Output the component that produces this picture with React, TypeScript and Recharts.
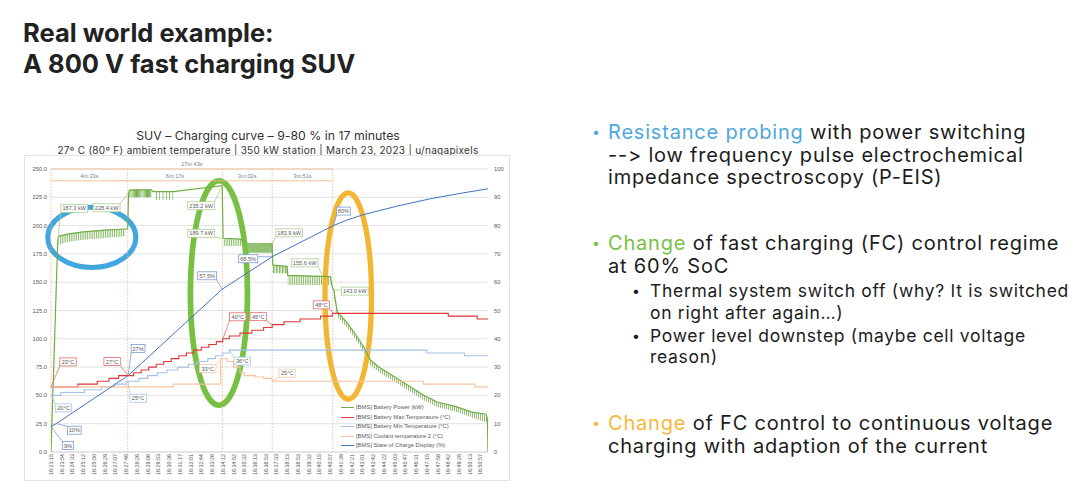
import {
  ComposedChart,
  Line,
  Area,
  XAxis,
  YAxis,
  CartesianGrid,
  Legend,
  ReferenceLine,
  ReferenceDot,
  ReferenceArea,
} from "recharts";

const SLIDE_FONT = "Inter, 'Noto Sans', sans-serif";
const CHART_FONT = "'Liberation Sans', Arial, sans-serif";

// x values are "label slots" of the category axis: 0 = 16:23:15 ... 40 = 16:50:57
const TIME_LABELS = [
  "16:23:15", "16:23:54", "16:24:33", "16:25:12", "16:25:50", "16:26:29", "16:27:07",
  "16:27:46", "16:28:26", "16:29:06", "16:29:53", "16:30:36", "16:31:17", "16:32:01",
  "16:32:44", "16:33:26", "16:34:12", "16:34:52", "16:35:32", "16:36:13", "16:36:53",
  "16:37:33", "16:38:13", "16:38:53", "16:39:32", "16:40:15", "16:40:57", "16:41:39",
  "16:42:21", "16:43:01", "16:43:42", "16:44:22", "16:45:03", "16:45:47", "16:46:31",
  "16:47:15", "16:47:58", "16:48:42", "16:49:28", "16:50:13", "16:50:57",
];
const TIME_TICKS = TIME_LABELS.map((_, i) => i);
const KW_TICKS = [0, 25, 50, 75, 100, 125, 150, 175, 200, 225, 250];
const PCT_TICKS = [0, 10, 20, 30, 40, 50, 60, 70, 80, 90, 100];

// [slot, kW] upper edge of the battery power trace
const POWER: [number, number][] = [
  [0, 0], [0.63, 187], [0.71, 190.5], [1.5, 192.5], [3, 194.5], [5, 196], [6.92, 197],
  [7.14, 197], [7.23, 229], [7.4, 231.6], [9.35, 231.6], [9.5, 230], [11.4, 230],
  [15.94, 235.2], [16.03, 188.8], [17.71, 188], [18.27, 184], [20.6, 183.9], [20.65, 165],
  [21.99, 164], [22.05, 156], [26.03, 155], [26.19, 146], [26.34, 143], [26.65, 124],
  [27.59, 114], [28.2, 106], [29.13, 93], [29.75, 81], [30.7, 74], [32.25, 65],
  [33.5, 57.5], [34.7, 50.2], [35.97, 44.2], [37.8, 39.8], [39.1, 35.4], [40.5, 33.4],
  [40.64, 30], [40.7, 0],
];

// power ripple from the resistance probing: [slot, low kW, high kW]
const RIPPLE_A: [number, number, number][] = [
  [0.71, 183, 190.5], [1.5, 185.5, 192.5], [3, 187.5, 194.5], [5, 189, 196], [6.92, 190.3, 197],
];
const RIPPLE_B: [number, number, number][] = [[7.23, 225, 231.6], [9.35, 225, 231.6]];
const RIPPLE_C: [number, number, number][] = [[9.72, 222.7, 230], [11.4, 222.7, 230]];
const RIPPLE_D: [number, number, number][] = [[16.03, 182, 188.8], [17.71, 182, 188]];
const RIPPLE_E: [number, number, number][] = [[18.27, 176, 183.5], [20.6, 176, 183.9]];
const RIPPLE_F: [number, number, number][] = [[20.65, 158, 165], [21.99, 158, 164]];
const RIPPLE_G: [number, number, number][] = [[22.05, 147.5, 156], [26.03, 147.5, 155]];
const RIPPLE_H: [number, number, number][] = [
  [26.34, 139, 143], [26.65, 119.5, 124], [27.59, 109.5, 114], [28.2, 101.5, 106],
  [29.13, 88.5, 93], [29.75, 76.5, 81], [30.7, 69.5, 74], [32.25, 60.5, 65], [33.5, 53, 57.5],
  [34.7, 45.7, 50.2], [35.97, 39.7, 44.2], [37.8, 35.3, 39.8], [39.1, 31, 35.4],
  [40.3, 27, 33.5], [40.64, 26, 30],
];
const RIPPLES = [RIPPLE_A, RIPPLE_B, RIPPLE_C, RIPPLE_D, RIPPLE_E, RIPPLE_F, RIPPLE_G, RIPPLE_H];
// tooth spacing (px) of the hatch used for each ripple band
const RIPPLE_GAP = [1.8, 1.1, 3.3, 1.8, 1.0, 1.5, 1.8, 2.0];

// [slot, °C] step series on the right axis
const MAX_TEMP: [number, number][] = [
  [0, 23], [2.5, 24], [4.3, 25], [5.4, 26], [6.3, 27], [7.7, 28], [8.4, 29], [9.1, 30],
  [9.8, 31], [10.5, 32], [11.2, 33], [11.9, 34], [12.6, 35], [13.3, 36], [14.0, 37],
  [14.7, 38], [15.4, 39], [16.0, 40], [16.6, 41], [17.6, 42], [18.7, 43], [19.8, 44],
  [20.6, 45], [21.7, 46], [23.2, 47], [25.1, 48], [26.2, 49], [37.0, 48], [39.7, 47],
  [40.7, 47],
];
const MIN_TEMP: [number, number][] = [
  [0, 20], [0.9, 21], [3.1, 22], [4.7, 23], [5.9, 24], [7.0, 25], [8.2, 26], [9.0, 27],
  [9.9, 28], [10.8, 29], [11.8, 30], [12.8, 31], [13.6, 32], [14.6, 33], [15.3, 34],
  [16.0, 35], [16.6, 36], [35.0, 35], [38.5, 34], [40.7, 34],
];
const COOLANT: [number, number][] = [
  [0, 23], [11.4, 24], [15.8, 33], [16.4, 32], [17.0, 30], [17.6, 28], [18.0, 27],
  [19.0, 26.5], [19.8, 26], [20.6, 25], [34.7, 24], [39.5, 23], [40.7, 23],
];
// [slot, %]
const SOC: [number, number][] = [
  [0, 9], [0.49, 10], [7.18, 27], [15.94, 57.5], [20.6, 69], [26.3, 80], [27.59, 82],
  [29.13, 83.9], [32.25, 86.9], [35.35, 89.5], [38.45, 91.6], [40.7, 93],
];

const SERIES_NAMES = [
  "[BMS] Battery Power (kW)",
  "[BMS] Battery Max Temperature (°C)",
  "[BMS] Battery Min Temperature (°C)",
  "[BMS] Coolant temperature 2 (°C)",
  "[BMS] State of Charge Display (%)",
];

// charging phases (slot boundaries) and their durations
const PHASE_EDGES = [0, 7.14, 15.96, 20.6, 26.24];
const PHASE_TEXT = ["4m:33s", "6m:17s", "3m:02s", "3m:51s"];
const TOTAL_TEXT = "17m:43s";

// data callouts: [slot, value, text]
const POWER_NOTES: [number, number, string][] = [
  [0.63, 187, "187.3 kW"], [7.23, 229, "228.4 kW"], [15.94, 235.2, "235.2 kW"],
  [16.03, 188.8, "189.7 kW"], [20.6, 183.9, "183.9 kW"], [25.3, 155.6, "155.6 kW"],
  [26.34, 143, "143.0 kW"],
];
const SOC_NOTES: [number, number, string][] = [
  [0, 9, "9%"], [0.49, 10, "10%"], [7.18, 27, "27%"], [15.94, 57.5, "57.5%"],
  [20.6, 69, "68.5%"], [26.3, 80, "80%"],
];
const MAX_NOTES: [number, number, string][] = [
  [0, 23, "23°C"], [7.18, 27, "27°C"], [16.0, 40, "40°C"], [20.6, 45, "45°C"], [26.3, 49, "48°C"],
];
const MIN_NOTES: [number, number, string][] = [
  [0, 20, "20°C"], [7.18, 25, "25°C"], [16.6, 36, "36°C"],
];
const COOL_NOTES: [number, number, string][] = [[15.9, 33, "33°C"], [20.6, 25, "25°C"]];

// callout box offsets from their point, px
const POWER_NOTE_OFFSET = [[16.5, -32], [-22, 15], [-21, 20], [-22, -5], [17, -11], [-18, -13], [21, 1]];
const SOC_NOTE_OFFSET = [[17, 19], [18, 6.5], [10, -27], [-15, -13.5], [-24, 2], [10, -14.5]];
const MAX_NOTE_OFFSET = [[17, -25], [-16, -14], [15, -22], [-14, -8], [-12, -8.5]];
const MIN_NOTE_OFFSET = [[12.5, 12.5], [10, 17], [13, 11]];
const COOL_NOTE_OFFSET = [[-14, 10], [15, -8]];

// hand-drawn highlight rings: [slot from, slot to, kW low, kW high]
const RINGS: [number, number, number, number][] = [
  [-0.3, 7.9, 163, 216.1],
  [12.98, 18.3, 41.3, 239.6],
  [25.52, 29.85, 46.6, 228.9],
];
const RING_COLOR = ["#41a7de", "#77c043", "#f2b632"];
const RING_WIDTH = [5, 5.7, 5.3];

const C = {
  power: "#70ad47",
  max: "#e0363a",
  min: "#a3c1e8",
  cool: "#f7c3a0",
  soc: "#4472c4",
  phase: "#f4b183",
  grid: "#e2e2e2",
  tick: "#595959",
};
const SERIES_COLORS = [C.power, C.max, C.min, C.cool, C.soc];

const rows = (pts: [number, number][]) => pts.map(([u, v]) => ({ u, v }));
const bandRows = (pts: [number, number, number][]) =>
  pts.map(([u, lo, hi]) => ({ u, r: [lo, hi] }));

function TimeTick({ x, y, payload }: any) {
  return (
    <text
      x={x}
      y={y - 6}
      transform={`rotate(-90 ${x} ${y - 6})`}
      textAnchor="end"
      dominantBaseline="central"
      fontSize={5.4}
      fontFamily={CHART_FONT}
      fill={C.tick}
    >
      {TIME_LABELS[payload.value]}
    </text>
  );
}

function Callout({ cx, cy, text, color, dx, dy }: any) {
  const w = text.length * 2.6 + 6;
  const h = 8;
  const bx = cx + dx;
  const by = cy + dy;
  const ex = Math.max(bx - w / 2, Math.min(cx, bx + w / 2));
  const ey = Math.max(by - h / 2, Math.min(cy, by + h / 2));
  return (
    <g>
      <line x1={cx} y1={cy} x2={ex} y2={ey} stroke={color} strokeWidth={0.8} />
      <rect x={bx - w / 2} y={by - h / 2} width={w} height={h} fill="#fff" stroke={color} strokeWidth={0.8} />
      <text x={bx} y={by + 2} textAnchor="middle" fontSize={5.6} fontFamily={CHART_FONT} fill={C.tick}>
        {text}
      </text>
    </g>
  );
}

// legend kept in the same order as the Excel original
function LegendBox() {
  return (
    <div style={{ fontFamily: CHART_FONT, fontSize: 5.8, color: C.tick, lineHeight: "9.5px" }}>
      {SERIES_NAMES.map((name, i) => (
        <div key={name} style={{ display: "flex", alignItems: "center", whiteSpace: "nowrap" }}>
          <span
            style={{ display: "inline-block", width: 13, height: 0, borderTop: `1.4px solid ${SERIES_COLORS[i]}`, marginRight: 2 }}
          />
          {name}
        </div>
      ))}
    </div>
  );
}

function notes(list: [number, number, string][], offs: number[][], axis: string, color: string) {
  return list.map(([u, v, text], i) => (
    <ReferenceDot
      key={axis + color + i}
      x={u}
      y={v}
      yAxisId={axis}
      r={0}
      ifOverflow="visible"
      shape={(p: any) => (
        <Callout cx={p.cx} cy={p.cy} text={text} color={color} dx={offs[i][0]} dy={offs[i][1]} />
      )}
    />
  ));
}

function Chart() {
  return (
    <ComposedChart width={486} height={326} margin={{ top: 14, right: 0, bottom: 0, left: 0 }}>
      <defs>
        {RIPPLE_GAP.map((g, i) => (
          <pattern key={i} id={`ripple${i}`} patternUnits="userSpaceOnUse" width={g} height={4}>
            <rect x={0} y={0} width={0.75} height={4} fill={C.power} />
          </pattern>
        ))}
      </defs>
      <CartesianGrid vertical={false} stroke={C.grid} yAxisId="kw" />
      <XAxis
        type="number"
        dataKey="u"
        domain={[0, 40.7]}
        ticks={TIME_TICKS}
        interval={0}
        height={29}
        tickLine={false}
        axisLine={{ stroke: "#d9d9d9" }}
        tick={(p: any) => <TimeTick {...p} />}
        allowDataOverflow
      />
      <YAxis
        yAxisId="kw"
        domain={[0, 250]}
        ticks={KW_TICKS}
        width={27}
        axisLine={false}
        tickLine={false}
        tickSize={3}
        tickMargin={1}
        tick={{ fontSize: 5.8, fill: C.tick, fontFamily: CHART_FONT }}
        tickFormatter={(v: number) => v.toFixed(1)}
      />
      <YAxis
        yAxisId="pct"
        orientation="right"
        domain={[0, 100]}
        ticks={PCT_TICKS}
        width={22}
        axisLine={false}
        tickLine={false}
        tickSize={4}
        tickMargin={2}
        tick={{ fontSize: 5.8, fill: C.tick, fontFamily: CHART_FONT, textAnchor: "start" }}
      />

      {PHASE_EDGES.map((x) => (
        <ReferenceLine key={"e" + x} x={x} yAxisId="kw" stroke={C.phase} strokeWidth={0.8} strokeDasharray="1.5 1.5" />
      ))}
      <ReferenceLine
        yAxisId="kw"
        segment={[{ x: PHASE_EDGES[0], y: 250 }, { x: PHASE_EDGES[4], y: 250 }]}
        stroke={C.phase}
        strokeWidth={0.8}
        ifOverflow="visible"
        label={{ value: TOTAL_TEXT, position: "top", offset: 3, fontSize: 5.6, fill: "#7f7f7f", fontFamily: CHART_FONT }}
      />
      {PHASE_TEXT.map((t, i) => (
        <ReferenceLine
          key={"p" + i}
          yAxisId="kw"
          segment={[{ x: PHASE_EDGES[i], y: 239.6 }, { x: PHASE_EDGES[i + 1], y: 239.6 }]}
          stroke={C.phase}
          strokeWidth={0.8}
          ifOverflow="visible"
          label={{ value: t, position: "top", offset: 3, fontSize: 5.6, fill: "#7f7f7f", fontFamily: CHART_FONT }}
        />
      ))}

      {RIPPLES.map((band, i) => (
        <Area
          key={"r" + i}
          data={bandRows(band)}
          dataKey="r"
          yAxisId="kw"
          type="linear"
          stroke="none"
          fill={`url(#ripple${i})`}
          fillOpacity={1}
          legendType="none"
          dot={false}
          activeDot={false}
          isAnimationActive={false}
        />
      ))}

      <Line name={SERIES_NAMES[0]} data={rows(POWER)} dataKey="v" yAxisId="kw" type="linear"
        stroke={C.power} strokeWidth={1.2} dot={false} activeDot={false} isAnimationActive={false} />
      <Line name={SERIES_NAMES[1]} data={rows(MAX_TEMP)} dataKey="v" yAxisId="pct" type="stepAfter"
        stroke={C.max} strokeWidth={1.1} dot={false} activeDot={false} isAnimationActive={false} />
      <Line name={SERIES_NAMES[2]} data={rows(MIN_TEMP)} dataKey="v" yAxisId="pct" type="stepAfter"
        stroke={C.min} strokeWidth={1.1} dot={false} activeDot={false} isAnimationActive={false} />
      <Line name={SERIES_NAMES[3]} data={rows(COOLANT)} dataKey="v" yAxisId="pct" type="stepAfter"
        stroke={C.cool} strokeWidth={1.1} dot={false} activeDot={false} isAnimationActive={false} />
      <Line name={SERIES_NAMES[4]} data={rows(SOC)} dataKey="v" yAxisId="pct" type="linear"
        stroke={C.soc} strokeWidth={1} dot={false} activeDot={false} isAnimationActive={false} />

      <Legend
        layout="vertical"
        align="center"
        verticalAlign="middle"
        wrapperStyle={{ left: 317, top: 248, width: "auto", height: "auto" }}
        content={() => <LegendBox />}
      />

      {notes(POWER_NOTES, POWER_NOTE_OFFSET, "kw", "#a9d18e")}
      {notes(SOC_NOTES, SOC_NOTE_OFFSET, "pct", "#7d99d3")}
      {notes(MAX_NOTES, MAX_NOTE_OFFSET, "pct", "#e46c6c")}
      {notes(MIN_NOTES, MIN_NOTE_OFFSET, "pct", "#a9c3ea")}
      {notes(COOL_NOTES, COOL_NOTE_OFFSET, "pct", "#f8c9a8")}

      {RINGS.map(([x1, x2, y1, y2], i) => (
        <ReferenceArea
          key={"ring" + i}
          x1={x1}
          x2={x2}
          y1={y1}
          y2={y2}
          yAxisId="kw"
          ifOverflow="visible"
          shape={(p: any) => (
            <ellipse
              cx={p.x + p.width / 2}
              cy={p.y + p.height / 2}
              rx={Math.abs(p.width / 2)}
              ry={Math.abs(p.height / 2)}
              fill="none"
              stroke={RING_COLOR[i]}
              strokeWidth={RING_WIDTH[i]}
            />
          )}
        />
      ))}
    </ComposedChart>
  );
}

const bullet = (color: string, left: number, size = 14) => (
  <span style={{ position: "absolute", left, color, fontSize: size, letterSpacing: 0 }}>•</span>
);

const bodyText = { fontSize: 20, lineHeight: "22.5px", letterSpacing: 0.8, whiteSpace: "nowrap" as const };
const subText = { fontSize: 17.5, lineHeight: "21.5px", letterSpacing: 0.7, whiteSpace: "nowrap" as const };

export default function App() {
  const dark = "#1c1c1c";
  return (
    <div
      style={{
        position: "absolute",
        left: 0,
        top: 0,
        width: 1080,
        height: 497,
        background: "#fff",
        overflow: "hidden",
        fontFamily: SLIDE_FONT,
        fontFeatureSettings: '"calt" 0, "liga" 0',
        fontVariantLigatures: "none",
        color: dark,
      }}
    >
      <div style={{ position: "absolute", left: 23, top: 17, fontWeight: 700, fontSize: 25.5, lineHeight: "31px", color: "#222" }}>
        Real world example:
        <br />A 800 V fast charging SUV
      </div>

      <div style={{ position: "absolute", left: 18, width: 500, top: 129, textAlign: "center", fontSize: 12.3, lineHeight: "14px", color: "#333" }}>
        SUV – Charging curve – 9-80 % in 17 minutes
      </div>
      <div style={{ position: "absolute", left: 18, width: 500, top: 144, textAlign: "center", fontSize: 10, lineHeight: "12px", letterSpacing: 0.3, color: "#333" }}>
        27º C (80º F) ambient temperature | 350 kW station | March 23, 2023 | u/nagapixels
      </div>

      <div style={{ position: "absolute", left: 24, top: 155, width: 486, height: 326, border: "1px solid #e3e3e3", boxSizing: "border-box" }} />
      <div style={{ position: "absolute", left: 24, top: 155 }}>
        <Chart />
      </div>

      <div style={{ position: "absolute", left: 608, top: 121, ...bodyText }}>
        {bullet("#4ea8db", -16)}
        <span style={{ color: "#4ea8db" }}>Resistance probing</span> with power switching
        <br />
        --&gt; low frequency pulse electrochemical
        <br />
        impedance spectroscopy (P-EIS)
      </div>

      <div style={{ position: "absolute", left: 608, top: 232, ...bodyText }}>
        {bullet("#7ac143", -16)}
        <span style={{ color: "#7ac143" }}>Change</span> of fast charging (FC) control regime
        <br />
        at 60% SoC
      </div>

      <div style={{ position: "absolute", left: 650, top: 280, ...subText }}>
        {bullet(dark, -18)}
        Thermal system switch off (why? It is switched
        <br />
        on right after again…)
      </div>
      <div style={{ position: "absolute", left: 650, top: 325, ...subText, lineHeight: "21px" }}>
        {bullet(dark, -18)}
        Power level downstep (maybe cell voltage
        <br />
        reason)
      </div>

      <div style={{ position: "absolute", left: 608, top: 412, ...bodyText }}>
        {bullet("#f5b83a", -16)}
        <span style={{ color: "#f5b83a" }}>Change</span> of FC control to continuous voltage
        <br />
        charging with adaption of the current
      </div>
    </div>
  );
}
